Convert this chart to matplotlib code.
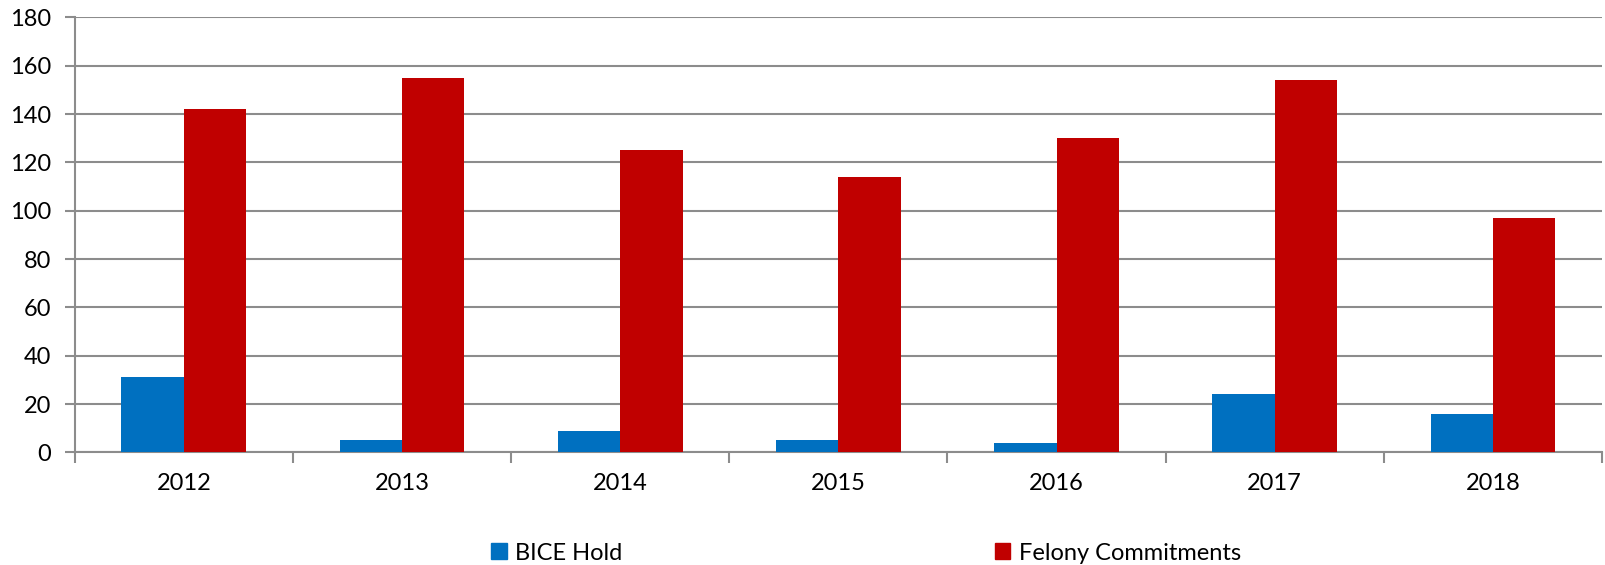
import numpy as np
import matplotlib
matplotlib.use("Agg")
import matplotlib.pyplot as plt
from matplotlib.patches import Patch

# data
years = ["2012", "2013", "2014", "2015", "2016", "2017", "2018"]
bice_hold = [31, 5, 9, 5, 4, 24, 16]
felony_commitments = [142, 155, 125, 114, 130, 154, 97]
yticks = list(range(0, 181, 20))

blue = "#0070C0"
red = "#C00000"
grid_gray = "#8C8C8C"

plt.rcParams['font.family'] = ['Lato', 'DejaVu Sans']

fig = plt.figure(figsize=(16.05, 5.65), dpi=100)
ax = fig.add_axes([74.7 / 1605, 1 - 452.4 / 565, (1602 - 74.7) / 1605, (452.4 - 17.4) / 565])

x = np.arange(len(years))
w = 0.286
ax.bar(x - w / 2, bice_hold, w, color=blue, zorder=3)
ax.bar(x + w / 2, felony_commitments, w, color=red, zorder=3)

ax.set_xlim(-0.5, len(years) - 0.5)
ax.set_ylim(0, 180)
ax.set_yticks(yticks)
ax.set_xticks(x)
ax.set_xticklabels(years)
ax.set_xticks(np.arange(-0.5, len(years), 1.0), minor=True)

ax.yaxis.grid(True, color=grid_gray, linewidth=1.5, zorder=0)
for s in ["top", "right"]:
    ax.spines[s].set_visible(False)
ax.spines["left"].set_color(grid_gray)
ax.spines["bottom"].set_color(grid_gray)
ax.spines["left"].set_linewidth(1.5)
ax.spines["bottom"].set_linewidth(1.5)

ax.tick_params(axis="y", length=7, width=1.5, color=grid_gray, labelsize=17, pad=10)
ax.tick_params(axis="x", which="major", length=0, labelsize=17, pad=15)
ax.tick_params(axis="x", which="minor", length=8, width=1.5, color=grid_gray)

handles = [Patch(color=blue, label="BICE Hold"), Patch(color=red, label="Felony Commitments")]
fig.legend(handles=handles, loc="center", bbox_to_anchor=(866 / 1605, 1 - 553 / 565), ncol=2,
           frameon=False, fontsize=17, handlelength=0.65, handleheight=0.65,
           handletextpad=0.35, columnspacing=15.8, borderpad=0)

fig.savefig("out.png", dpi=100)
